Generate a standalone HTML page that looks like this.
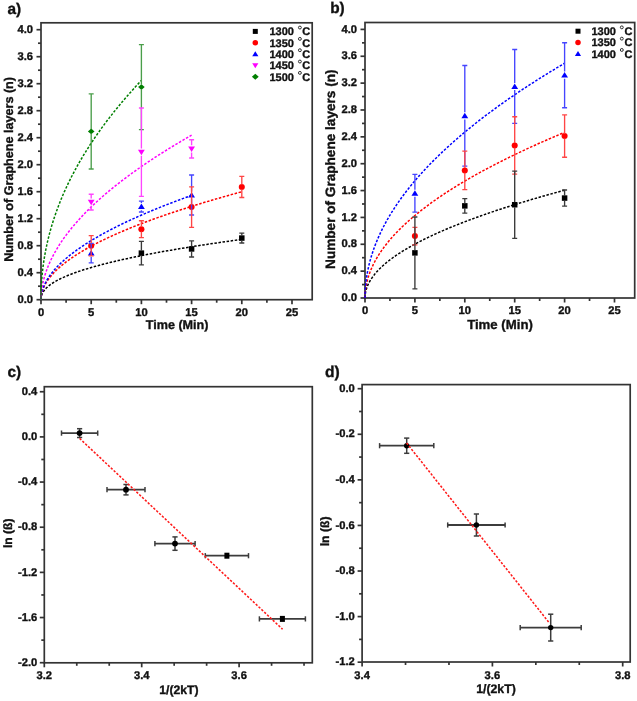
<!DOCTYPE html>
<html><head><meta charset="utf-8"><title>Graphene layers figure</title>
<style>
html,body{margin:0;padding:0;background:#fff;}
body{width:637px;height:701px;position:relative;overflow:hidden;font-family:"Liberation Sans", sans-serif;}
svg{will-change:transform;filter:blur(0.3px);}
text{stroke:#111;stroke-width:0.35px;}
</style></head><body>
<svg width="637" height="701" viewBox="0 0 637 701" style="position:absolute;left:0;top:0" font-family='"Liberation Sans", sans-serif' fill="#111111" text-rendering="geometricPrecision">
<rect width="637" height="701" fill="#ffffff"/>
<line x1="41" y1="299.7" x2="41" y2="304.2" stroke="#333333" stroke-width="1.7" />
<line x1="91.2" y1="299.7" x2="91.2" y2="304.2" stroke="#333333" stroke-width="1.7" />
<line x1="141.4" y1="299.7" x2="141.4" y2="304.2" stroke="#333333" stroke-width="1.7" />
<line x1="191.6" y1="299.7" x2="191.6" y2="304.2" stroke="#333333" stroke-width="1.7" />
<line x1="241.8" y1="299.7" x2="241.8" y2="304.2" stroke="#333333" stroke-width="1.7" />
<line x1="292" y1="299.7" x2="292" y2="304.2" stroke="#333333" stroke-width="1.7" />
<line x1="66.1" y1="299.7" x2="66.1" y2="302.7" stroke="#333333" stroke-width="1.7" />
<line x1="116.3" y1="299.7" x2="116.3" y2="302.7" stroke="#333333" stroke-width="1.7" />
<line x1="166.5" y1="299.7" x2="166.5" y2="302.7" stroke="#333333" stroke-width="1.7" />
<line x1="216.7" y1="299.7" x2="216.7" y2="302.7" stroke="#333333" stroke-width="1.7" />
<line x1="266.9" y1="299.7" x2="266.9" y2="302.7" stroke="#333333" stroke-width="1.7" />
<line x1="36.5" y1="299.7" x2="41" y2="299.7" stroke="#333333" stroke-width="1.7" />
<line x1="36.5" y1="272.7" x2="41" y2="272.7" stroke="#333333" stroke-width="1.7" />
<line x1="36.5" y1="245.7" x2="41" y2="245.7" stroke="#333333" stroke-width="1.7" />
<line x1="36.5" y1="218.7" x2="41" y2="218.7" stroke="#333333" stroke-width="1.7" />
<line x1="36.5" y1="191.7" x2="41" y2="191.7" stroke="#333333" stroke-width="1.7" />
<line x1="36.5" y1="164.7" x2="41" y2="164.7" stroke="#333333" stroke-width="1.7" />
<line x1="36.5" y1="137.7" x2="41" y2="137.7" stroke="#333333" stroke-width="1.7" />
<line x1="36.5" y1="110.7" x2="41" y2="110.7" stroke="#333333" stroke-width="1.7" />
<line x1="36.5" y1="83.7" x2="41" y2="83.7" stroke="#333333" stroke-width="1.7" />
<line x1="36.5" y1="56.7" x2="41" y2="56.7" stroke="#333333" stroke-width="1.7" />
<line x1="36.5" y1="29.7" x2="41" y2="29.7" stroke="#333333" stroke-width="1.7" />
<line x1="38" y1="286.2" x2="41" y2="286.2" stroke="#333333" stroke-width="1.7" />
<line x1="38" y1="259.2" x2="41" y2="259.2" stroke="#333333" stroke-width="1.7" />
<line x1="38" y1="232.2" x2="41" y2="232.2" stroke="#333333" stroke-width="1.7" />
<line x1="38" y1="205.2" x2="41" y2="205.2" stroke="#333333" stroke-width="1.7" />
<line x1="38" y1="178.2" x2="41" y2="178.2" stroke="#333333" stroke-width="1.7" />
<line x1="38" y1="151.2" x2="41" y2="151.2" stroke="#333333" stroke-width="1.7" />
<line x1="38" y1="124.2" x2="41" y2="124.2" stroke="#333333" stroke-width="1.7" />
<line x1="38" y1="97.2" x2="41" y2="97.2" stroke="#333333" stroke-width="1.7" />
<line x1="38" y1="70.2" x2="41" y2="70.2" stroke="#333333" stroke-width="1.7" />
<line x1="38" y1="43.2" x2="41" y2="43.2" stroke="#333333" stroke-width="1.7" />
<rect x="41" y="22.8" width="271.2" height="276.9" fill="none" stroke="#333333" stroke-width="1.7"/>
<text x="41" y="316.2" font-size="11.2" text-anchor="middle" font-weight="bold" >0</text>
<text x="91.2" y="316.2" font-size="11.2" text-anchor="middle" font-weight="bold" >5</text>
<text x="141.4" y="316.2" font-size="11.2" text-anchor="middle" font-weight="bold" >10</text>
<text x="191.6" y="316.2" font-size="11.2" text-anchor="middle" font-weight="bold" >15</text>
<text x="241.8" y="316.2" font-size="11.2" text-anchor="middle" font-weight="bold" >20</text>
<text x="292" y="316.2" font-size="11.2" text-anchor="middle" font-weight="bold" >25</text>
<text x="33" y="302.9" font-size="11.2" text-anchor="end" font-weight="bold" >0.0</text>
<text x="33" y="275.9" font-size="11.2" text-anchor="end" font-weight="bold" >0.4</text>
<text x="33" y="248.9" font-size="11.2" text-anchor="end" font-weight="bold" >0.8</text>
<text x="33" y="221.9" font-size="11.2" text-anchor="end" font-weight="bold" >1.2</text>
<text x="33" y="194.9" font-size="11.2" text-anchor="end" font-weight="bold" >1.6</text>
<text x="33" y="167.9" font-size="11.2" text-anchor="end" font-weight="bold" >2.0</text>
<text x="33" y="140.9" font-size="11.2" text-anchor="end" font-weight="bold" >2.4</text>
<text x="33" y="113.9" font-size="11.2" text-anchor="end" font-weight="bold" >2.8</text>
<text x="33" y="86.9" font-size="11.2" text-anchor="end" font-weight="bold" >3.2</text>
<text x="33" y="59.9" font-size="11.2" text-anchor="end" font-weight="bold" >3.6</text>
<text x="33" y="32.9" font-size="11.2" text-anchor="end" font-weight="bold" >4.0</text>
<text x="7.4" y="13.6" font-size="15.4" font-weight="bold">a)</text>
<text x="177.1" y="329.4" font-size="12.6" font-weight="bold" text-anchor="middle">Time (Min)</text>
<text transform="translate(13.1,169.4) rotate(-90)" font-size="12.6" font-weight="bold" text-anchor="middle">Number of Graphene layers (n)</text>
<polyline points="41,299.7 41.18,297.18 41.55,295.54 42.05,294.12 42.66,292.82 43.38,291.62 44.18,290.47 45.07,289.38 46.04,288.33 47.09,287.32 48.21,286.34 49.4,285.38 50.65,284.45 51.97,283.54 53.35,282.65 54.79,281.77 56.29,280.92 57.85,280.07 59.46,279.24 61.13,278.42 62.85,277.62 64.62,276.82 66.45,276.04 68.33,275.26 70.25,274.5 72.23,273.74 74.25,272.99 76.32,272.25 78.43,271.52 80.6,270.79 82.8,270.08 85.06,269.36 87.35,268.66 89.69,267.96 92.07,267.26 94.5,266.57 96.96,265.89 99.47,265.21 102.02,264.54 104.61,263.87 107.24,263.21 109.91,262.55 112.62,261.89 115.37,261.24 118.15,260.6 120.98,259.95 123.84,259.32 126.74,258.68 129.68,258.05 132.65,257.42 135.66,256.8 138.71,256.18 141.79,255.56 144.91,254.95 148.07,254.34 151.26,253.73 154.48,253.13 157.74,252.53 161.03,251.93 164.36,251.33 167.72,250.74 171.12,250.15 174.55,249.56 178.01,248.98 181.51,248.4 185.04,247.82 188.6,247.24 192.2,246.66 195.82,246.09 199.48,245.52 203.17,244.95 206.89,244.39 210.65,243.82 214.43,243.26 218.25,242.7 222.1,242.15 225.98,241.59 229.89,241.04 233.83,240.49 237.8,239.94 241.8,239.39" fill="none" stroke="#000000" stroke-width="1.5" stroke-dasharray="2.5,1.6"/>
<polyline points="41,299.7 41.18,296.58 41.55,294.24 42.05,292.12 42.66,290.13 43.38,288.23 44.18,286.41 45.07,284.65 46.04,282.93 47.09,281.26 48.21,279.62 49.4,278.01 50.65,276.42 51.97,274.87 53.35,273.33 54.79,271.82 56.29,270.33 57.85,268.85 59.46,267.39 61.13,265.95 62.85,264.52 64.62,263.1 66.45,261.7 68.33,260.31 70.25,258.93 72.23,257.56 74.25,256.2 76.32,254.85 78.43,253.51 80.6,252.18 82.8,250.86 85.06,249.55 87.35,248.25 89.69,246.95 92.07,245.66 94.5,244.38 96.96,243.1 99.47,241.84 102.02,240.57 104.61,239.32 107.24,238.07 109.91,236.83 112.62,235.59 115.37,234.36 118.15,233.13 120.98,231.91 123.84,230.69 126.74,229.48 129.68,228.28 132.65,227.08 135.66,225.88 138.71,224.69 141.79,223.5 144.91,222.32 148.07,221.14 151.26,219.96 154.48,218.79 157.74,217.63 161.03,216.46 164.36,215.31 167.72,214.15 171.12,213 174.55,211.85 178.01,210.71 181.51,209.57 185.04,208.43 188.6,207.29 192.2,206.16 195.82,205.04 199.48,203.91 203.17,202.79 206.89,201.67 210.65,200.56 214.43,199.44 218.25,198.34 222.1,197.23 225.98,196.13 229.89,195.02 233.83,193.93 237.8,192.83 241.8,191.74" fill="none" stroke="#ff0000" stroke-width="1.5" stroke-dasharray="2.5,1.6"/>
<polyline points="41,299.7 41.14,296.92 41.41,294.77 41.79,292.8 42.25,290.95 42.78,289.18 43.39,287.46 44.06,285.8 44.78,284.17 45.57,282.58 46.41,281.03 47.3,279.49 48.24,277.99 49.23,276.5 50.26,275.03 51.34,273.58 52.47,272.15 53.64,270.74 54.85,269.33 56.1,267.94 57.39,266.57 58.72,265.2 60.09,263.85 61.49,262.51 62.94,261.18 64.42,259.85 65.94,258.54 67.49,257.23 69.08,255.94 70.7,254.65 72.35,253.37 74.04,252.09 75.76,250.82 77.52,249.56 79.3,248.31 81.12,247.06 82.97,245.82 84.85,244.59 86.77,243.36 88.71,242.13 90.68,240.92 92.68,239.7 94.71,238.5 96.77,237.29 98.86,236.09 100.98,234.9 103.13,233.71 105.3,232.53 107.51,231.35 109.74,230.17 112,229 114.28,227.83 116.59,226.67 118.93,225.51 121.3,224.35 123.69,223.2 126.11,222.05 128.55,220.91 131.03,219.76 133.52,218.63 136.04,217.49 138.59,216.36 141.16,215.23 143.76,214.11 146.38,212.98 149.03,211.86 151.7,210.75 154.4,209.63 157.12,208.52 159.86,207.42 162.63,206.31 165.42,205.21 168.24,204.11 171.08,203.01 173.94,201.92 176.82,200.83 179.73,199.74 182.67,198.65 185.62,197.57 188.6,196.48 191.6,195.4" fill="none" stroke="#0000ff" stroke-width="1.5" stroke-dasharray="2.5,1.6"/>
<polyline points="41,299.7 41.14,295.47 41.41,292.14 41.79,289.1 42.25,286.22 42.78,283.46 43.39,280.79 44.06,278.19 44.78,275.65 45.57,273.17 46.41,270.73 47.3,268.32 48.24,265.96 49.23,263.63 50.26,261.32 51.34,259.05 52.47,256.8 53.64,254.57 54.85,252.36 56.1,250.17 57.39,248.01 58.72,245.86 60.09,243.72 61.49,241.61 62.94,239.5 64.42,237.42 65.94,235.34 67.49,233.28 69.08,231.23 70.7,229.2 72.35,227.17 74.04,225.16 75.76,223.15 77.52,221.16 79.3,219.18 81.12,217.21 82.97,215.24 84.85,213.29 86.77,211.34 88.71,209.4 90.68,207.47 92.68,205.55 94.71,203.64 96.77,201.73 98.86,199.83 100.98,197.94 103.13,196.05 105.3,194.18 107.51,192.3 109.74,190.44 112,188.58 114.28,186.73 116.59,184.88 118.93,183.04 121.3,181.2 123.69,179.37 126.11,177.55 128.55,175.73 131.03,173.91 133.52,172.11 136.04,170.3 138.59,168.5 141.16,166.71 143.76,164.92 146.38,163.14 149.03,161.36 151.7,159.58 154.4,157.81 157.12,156.04 159.86,154.28 162.63,152.52 165.42,150.77 168.24,149.02 171.08,147.27 173.94,145.53 176.82,143.79 179.73,142.06 182.67,140.33 185.62,138.6 188.6,136.88 191.6,135.16" fill="none" stroke="#ff00ff" stroke-width="1.5" stroke-dasharray="2.5,1.6"/>
<polyline points="41,299.7 41.09,292.44 41.27,287.25 41.53,282.63 41.83,278.35 42.19,274.31 42.59,270.44 43.04,266.71 43.52,263.11 44.04,259.6 44.6,256.17 45.2,252.82 45.82,249.54 46.48,246.32 47.17,243.15 47.9,240.04 48.65,236.97 49.42,233.94 50.23,230.95 51.06,228 51.93,225.08 52.81,222.19 53.73,219.34 54.66,216.51 55.63,213.71 56.61,210.94 57.62,208.19 58.66,205.47 59.72,202.76 60.8,200.08 61.9,197.42 63.03,194.78 64.18,192.16 65.35,189.55 66.54,186.97 67.75,184.4 68.98,181.84 70.24,179.3 71.51,176.78 72.8,174.27 74.12,171.78 75.45,169.3 76.81,166.83 78.18,164.38 79.58,161.94 80.99,159.51 82.42,157.09 83.87,154.69 85.34,152.3 86.83,149.91 88.33,147.54 89.85,145.18 91.4,142.83 92.96,140.49 94.53,138.16 96.13,135.84 97.74,133.52 99.37,131.22 101.02,128.93 102.68,126.64 104.36,124.37 106.06,122.1 107.78,119.84 109.51,117.59 111.26,115.34 113.02,113.11 114.8,110.88 116.6,108.66 118.41,106.44 120.24,104.24 122.09,102.04 123.95,99.85 125.82,97.66 127.72,95.48 129.63,93.31 131.55,91.14 133.49,88.98 135.44,86.83 137.41,84.68 139.4,82.54 141.4,80.41" fill="none" stroke="#007f00" stroke-width="1.5" stroke-dasharray="2.5,1.6"/>
<rect x="138.65" y="250.38" width="5.5" height="5.5" fill="#000000"/>
<rect x="188.85" y="246.19" width="5.5" height="5.5" fill="#000000"/>
<rect x="239.05" y="235.32" width="5.5" height="5.5" fill="#000000"/>
<circle cx="91.2" cy="245.7" r="3.03" fill="#ff0000"/>
<circle cx="141.4" cy="229.16" r="3.03" fill="#ff0000"/>
<circle cx="191.6" cy="207.09" r="3.03" fill="#ff0000"/>
<circle cx="241.8" cy="186.91" r="3.03" fill="#ff0000"/>
<polygon points="91.2,250.03 87.8,255.53 94.6,255.53" fill="#0000ff"/>
<polygon points="141.4,203.45 138,208.95 144.8,208.95" fill="#0000ff"/>
<polygon points="191.6,191.91 188.2,197.41 195,197.41" fill="#0000ff"/>
<polygon points="91.2,205.19 87.8,199.69 94.6,199.69" fill="#ff00ff"/>
<polygon points="141.4,155.31 138,149.81 144.8,149.81" fill="#ff00ff"/>
<polygon points="191.6,151.94 188.2,146.44 195,146.44" fill="#ff00ff"/>
<polygon points="91.2,128.53 94.5,131.42 91.2,134.31 87.9,131.42" fill="#007f00"/>
<polygon points="141.4,84.19 144.7,87.07 141.4,89.96 138.1,87.07" fill="#007f00"/>
<path d="M91.2,169.02 V133.82 M91.2,129.02 V93.82 M88.7,169.02 H93.7 M88.7,93.82 H93.7" stroke="#4a9e4a" stroke-width="1.35" fill="none"/>
<path d="M141.4,129.6 V89.48 M141.4,84.67 V44.55 M138.9,129.6 H143.9 M138.9,44.55 H143.9" stroke="#4a9e4a" stroke-width="1.35" fill="none"/>
<path d="M91.2,209.99 V205.69 M91.2,198.5 V194.2 M88.7,209.99 H93.7 M88.7,194.2 H93.7" stroke="#ff45ff" stroke-width="1.35" fill="none"/>
<path d="M141.4,196.42 V155.81 M141.4,148.61 V108 M138.9,196.42 H143.9 M138.9,108 H143.9" stroke="#ff45ff" stroke-width="1.35" fill="none"/>
<path d="M191.6,157.95 V152.44 M191.6,145.24 V139.72 M189.1,157.95 H194.1 M189.1,139.72 H194.1" stroke="#ff45ff" stroke-width="1.35" fill="none"/>
<path d="M91.2,262.91 V256.73 M91.2,249.53 V243.34 M88.7,262.91 H93.7 M88.7,243.34 H93.7" stroke="#4545ff" stroke-width="1.35" fill="none"/>
<path d="M141.4,211.95 V210.15 M141.4,202.95 V201.15 M138.9,211.95 H143.9 M138.9,201.15 H143.9" stroke="#4545ff" stroke-width="1.35" fill="none"/>
<path d="M191.6,214.99 V198.61 M191.6,191.41 V175.03 M189.1,214.99 H194.1 M189.1,175.03 H194.1" stroke="#4545ff" stroke-width="1.35" fill="none"/>
<path d="M91.2,255.82 V248.1 M91.2,243.3 V235.57 M88.7,255.82 H93.7 M88.7,235.57 H93.7" stroke="#ff4545" stroke-width="1.35" fill="none"/>
<path d="M141.4,237.6 V231.56 M141.4,226.76 V220.72 M138.9,237.6 H143.9 M138.9,220.72 H143.9" stroke="#ff4545" stroke-width="1.35" fill="none"/>
<path d="M191.6,227.34 V209.49 M191.6,204.69 V186.84 M189.1,227.34 H194.1 M189.1,186.84 H194.1" stroke="#ff4545" stroke-width="1.35" fill="none"/>
<path d="M241.8,197.5 V189.31 M241.8,184.51 V176.31 M239.3,197.5 H244.3 M239.3,176.31 H244.3" stroke="#ff4545" stroke-width="1.35" fill="none"/>
<path d="M141.4,264.87 V255.53 M141.4,250.72 V241.38 M138.9,264.87 H143.9 M138.9,241.38 H143.9" stroke="#3a3a3a" stroke-width="1.35" fill="none"/>
<path d="M191.6,257.04 V251.34 M191.6,246.54 V240.84 M189.1,257.04 H194.1 M189.1,240.84 H194.1" stroke="#3a3a3a" stroke-width="1.35" fill="none"/>
<path d="M241.8,243 V240.47 M241.8,235.67 V233.14 M239.3,243 H244.3 M239.3,233.14 H244.3" stroke="#3a3a3a" stroke-width="1.35" fill="none"/>
<rect x="252.8" y="28.9" width="5" height="5" fill="#000000"/>
<text x="269.5" y="35.36" font-size="11" font-weight="bold">1300</text>
<circle cx="299.9" cy="27.56" r="1.45" fill="none" stroke="#222" stroke-width="0.95"/>
<text x="302.3" y="35.36" font-size="11" font-weight="bold">C</text>
<circle cx="255.3" cy="42.73" r="2.75" fill="#ff0000"/>
<text x="269.5" y="46.69" font-size="11" font-weight="bold">1350</text>
<circle cx="299.9" cy="38.89" r="1.45" fill="none" stroke="#222" stroke-width="0.95"/>
<text x="302.3" y="46.69" font-size="11" font-weight="bold">C</text>
<polygon points="255.3,51.24 252.21,56.24 258.39,56.24" fill="#0000ff"/>
<text x="269.5" y="58.02" font-size="11" font-weight="bold">1400</text>
<circle cx="299.9" cy="50.22" r="1.45" fill="none" stroke="#222" stroke-width="0.95"/>
<text x="302.3" y="58.02" font-size="11" font-weight="bold">C</text>
<polygon points="255.3,68.21 252.21,63.21 258.39,63.21" fill="#ff00ff"/>
<text x="269.5" y="69.35" font-size="11" font-weight="bold">1450</text>
<circle cx="299.9" cy="61.55" r="1.45" fill="none" stroke="#222" stroke-width="0.95"/>
<text x="302.3" y="69.35" font-size="11" font-weight="bold">C</text>
<polygon points="255.3,73.73 258.72,76.72 255.3,79.71 251.88,76.72" fill="#007f00"/>
<text x="269.5" y="80.68" font-size="11" font-weight="bold">1500</text>
<circle cx="299.9" cy="72.88" r="1.45" fill="none" stroke="#222" stroke-width="0.95"/>
<text x="302.3" y="80.68" font-size="11" font-weight="bold">C</text>
<line x1="365" y1="298" x2="365" y2="302.5" stroke="#333333" stroke-width="1.7" />
<line x1="414.9" y1="298" x2="414.9" y2="302.5" stroke="#333333" stroke-width="1.7" />
<line x1="464.8" y1="298" x2="464.8" y2="302.5" stroke="#333333" stroke-width="1.7" />
<line x1="514.7" y1="298" x2="514.7" y2="302.5" stroke="#333333" stroke-width="1.7" />
<line x1="564.6" y1="298" x2="564.6" y2="302.5" stroke="#333333" stroke-width="1.7" />
<line x1="614.5" y1="298" x2="614.5" y2="302.5" stroke="#333333" stroke-width="1.7" />
<line x1="389.95" y1="298" x2="389.95" y2="301" stroke="#333333" stroke-width="1.7" />
<line x1="439.85" y1="298" x2="439.85" y2="301" stroke="#333333" stroke-width="1.7" />
<line x1="489.75" y1="298" x2="489.75" y2="301" stroke="#333333" stroke-width="1.7" />
<line x1="539.65" y1="298" x2="539.65" y2="301" stroke="#333333" stroke-width="1.7" />
<line x1="589.55" y1="298" x2="589.55" y2="301" stroke="#333333" stroke-width="1.7" />
<line x1="360.5" y1="298" x2="365" y2="298" stroke="#333333" stroke-width="1.7" />
<line x1="360.5" y1="271.14" x2="365" y2="271.14" stroke="#333333" stroke-width="1.7" />
<line x1="360.5" y1="244.28" x2="365" y2="244.28" stroke="#333333" stroke-width="1.7" />
<line x1="360.5" y1="217.42" x2="365" y2="217.42" stroke="#333333" stroke-width="1.7" />
<line x1="360.5" y1="190.56" x2="365" y2="190.56" stroke="#333333" stroke-width="1.7" />
<line x1="360.5" y1="163.7" x2="365" y2="163.7" stroke="#333333" stroke-width="1.7" />
<line x1="360.5" y1="136.84" x2="365" y2="136.84" stroke="#333333" stroke-width="1.7" />
<line x1="360.5" y1="109.98" x2="365" y2="109.98" stroke="#333333" stroke-width="1.7" />
<line x1="360.5" y1="83.12" x2="365" y2="83.12" stroke="#333333" stroke-width="1.7" />
<line x1="360.5" y1="56.26" x2="365" y2="56.26" stroke="#333333" stroke-width="1.7" />
<line x1="360.5" y1="29.4" x2="365" y2="29.4" stroke="#333333" stroke-width="1.7" />
<line x1="362" y1="284.57" x2="365" y2="284.57" stroke="#333333" stroke-width="1.7" />
<line x1="362" y1="257.71" x2="365" y2="257.71" stroke="#333333" stroke-width="1.7" />
<line x1="362" y1="230.85" x2="365" y2="230.85" stroke="#333333" stroke-width="1.7" />
<line x1="362" y1="203.99" x2="365" y2="203.99" stroke="#333333" stroke-width="1.7" />
<line x1="362" y1="177.13" x2="365" y2="177.13" stroke="#333333" stroke-width="1.7" />
<line x1="362" y1="150.27" x2="365" y2="150.27" stroke="#333333" stroke-width="1.7" />
<line x1="362" y1="123.41" x2="365" y2="123.41" stroke="#333333" stroke-width="1.7" />
<line x1="362" y1="96.55" x2="365" y2="96.55" stroke="#333333" stroke-width="1.7" />
<line x1="362" y1="69.69" x2="365" y2="69.69" stroke="#333333" stroke-width="1.7" />
<line x1="362" y1="42.83" x2="365" y2="42.83" stroke="#333333" stroke-width="1.7" />
<rect x="365" y="22.5" width="269.7" height="275.5" fill="none" stroke="#333333" stroke-width="1.7"/>
<text x="365" y="313.8" font-size="11.2" text-anchor="middle" font-weight="bold" >0</text>
<text x="414.9" y="313.8" font-size="11.2" text-anchor="middle" font-weight="bold" >5</text>
<text x="464.8" y="313.8" font-size="11.2" text-anchor="middle" font-weight="bold" >10</text>
<text x="514.7" y="313.8" font-size="11.2" text-anchor="middle" font-weight="bold" >15</text>
<text x="564.6" y="313.8" font-size="11.2" text-anchor="middle" font-weight="bold" >20</text>
<text x="614.5" y="313.8" font-size="11.2" text-anchor="middle" font-weight="bold" >25</text>
<text x="357" y="301.2" font-size="11.2" text-anchor="end" font-weight="bold" >0.0</text>
<text x="357" y="274.34" font-size="11.2" text-anchor="end" font-weight="bold" >0.4</text>
<text x="357" y="247.48" font-size="11.2" text-anchor="end" font-weight="bold" >0.8</text>
<text x="357" y="220.62" font-size="11.2" text-anchor="end" font-weight="bold" >1.2</text>
<text x="357" y="193.76" font-size="11.2" text-anchor="end" font-weight="bold" >1.6</text>
<text x="357" y="166.9" font-size="11.2" text-anchor="end" font-weight="bold" >2.0</text>
<text x="357" y="140.04" font-size="11.2" text-anchor="end" font-weight="bold" >2.4</text>
<text x="357" y="113.18" font-size="11.2" text-anchor="end" font-weight="bold" >2.8</text>
<text x="357" y="86.32" font-size="11.2" text-anchor="end" font-weight="bold" >3.2</text>
<text x="357" y="59.46" font-size="11.2" text-anchor="end" font-weight="bold" >3.6</text>
<text x="357" y="32.6" font-size="11.2" text-anchor="end" font-weight="bold" >4.0</text>
<text x="330.2" y="13.1" font-size="15.4" font-weight="bold">b)</text>
<text x="500" y="328.7" font-size="13.2" font-weight="bold" text-anchor="middle">Time (Min)</text>
<text transform="translate(335.2,169.2) rotate(-90)" font-size="13.6" font-weight="bold" text-anchor="middle">Number of Graphene layers (n)</text>
<polyline points="365,298 365.18,294.76 365.55,292.36 366.04,290.2 366.65,288.19 367.36,286.27 368.16,284.43 369.05,282.64 370.01,280.91 371.05,279.23 372.17,277.57 373.35,275.96 374.59,274.37 375.9,272.8 377.27,271.26 378.71,269.75 380.2,268.25 381.75,266.77 383.35,265.31 385.01,263.87 386.72,262.44 388.48,261.02 390.3,259.62 392.16,258.23 394.08,256.85 396.04,255.49 398.05,254.13 400.11,252.79 402.21,251.45 404.36,250.13 406.55,248.81 408.79,247.5 411.07,246.2 413.4,244.91 415.77,243.63 418.18,242.35 420.63,241.09 423.12,239.82 425.66,238.57 428.23,237.32 430.84,236.08 433.5,234.84 436.19,233.62 438.92,232.39 441.69,231.17 444.5,229.96 447.34,228.75 450.23,227.55 453.15,226.36 456.1,225.16 459.1,223.98 462.12,222.8 465.19,221.62 468.29,220.45 471.43,219.28 474.6,218.11 477.8,216.95 481.04,215.8 484.32,214.65 487.63,213.5 490.97,212.35 494.34,211.21 497.75,210.08 501.2,208.95 504.67,207.82 508.18,206.69 511.72,205.57 515.29,204.45 518.9,203.33 522.53,202.22 526.2,201.11 529.9,200.01 533.64,198.91 537.4,197.81 541.19,196.71 545.02,195.62 548.87,194.53 552.76,193.44 556.68,192.35 560.62,191.27 564.6,190.19" fill="none" stroke="#000000" stroke-width="1.5" stroke-dasharray="2.5,1.6"/>
<polyline points="365,298 365.18,293.12 365.55,289.48 366.04,286.2 366.65,283.12 367.36,280.2 368.16,277.38 369.05,274.66 370.01,272.02 371.05,269.43 372.17,266.91 373.35,264.43 374.59,261.99 375.9,259.6 377.27,257.24 378.71,254.91 380.2,252.62 381.75,250.35 383.35,248.11 385.01,245.89 386.72,243.69 388.48,241.52 390.3,239.37 392.16,237.23 394.08,235.12 396.04,233.02 398.05,230.93 400.11,228.87 402.21,226.81 404.36,224.77 406.55,222.75 408.79,220.74 411.07,218.74 413.4,216.75 415.77,214.78 418.18,212.81 420.63,210.86 423.12,208.92 425.66,206.99 428.23,205.07 430.84,203.15 433.5,201.25 436.19,199.36 438.92,197.47 441.69,195.6 444.5,193.73 447.34,191.87 450.23,190.02 453.15,188.17 456.1,186.33 459.1,184.5 462.12,182.68 465.19,180.87 468.29,179.06 471.43,177.25 474.6,175.46 477.8,173.67 481.04,171.89 484.32,170.11 487.63,168.34 490.97,166.57 494.34,164.81 497.75,163.06 501.2,161.31 504.67,159.57 508.18,157.83 511.72,156.1 515.29,154.37 518.9,152.65 522.53,150.93 526.2,149.22 529.9,147.51 533.64,145.81 537.4,144.11 541.19,142.42 545.02,140.73 548.87,139.05 552.76,137.37 556.68,135.69 560.62,134.02 564.6,132.35" fill="none" stroke="#ff0000" stroke-width="1.5" stroke-dasharray="2.5,1.6"/>
<polyline points="365,298 365.18,291 365.55,285.79 366.04,281.1 366.65,276.72 367.36,272.56 368.16,268.55 369.05,264.68 370.01,260.92 371.05,257.25 372.17,253.66 373.35,250.14 374.59,246.68 375.9,243.28 377.27,239.93 378.71,236.63 380.2,233.37 381.75,230.15 383.35,226.97 385.01,223.83 386.72,220.72 388.48,217.63 390.3,214.58 392.16,211.56 394.08,208.56 396.04,205.58 398.05,202.63 400.11,199.7 402.21,196.8 404.36,193.91 406.55,191.04 408.79,188.19 411.07,185.36 413.4,182.55 415.77,179.76 418.18,176.98 420.63,174.21 423.12,171.46 425.66,168.73 428.23,166.01 430.84,163.31 433.5,160.61 436.19,157.94 438.92,155.27 441.69,152.61 444.5,149.97 447.34,147.34 450.23,144.72 453.15,142.11 456.1,139.52 459.1,136.93 462.12,134.35 465.19,131.79 468.29,129.23 471.43,126.68 474.6,124.14 477.8,121.62 481.04,119.1 484.32,116.59 487.63,114.08 490.97,111.59 494.34,109.1 497.75,106.62 501.2,104.15 504.67,101.69 508.18,99.24 511.72,96.79 515.29,94.35 518.9,91.92 522.53,89.49 526.2,87.08 529.9,84.66 533.64,82.26 537.4,79.86 541.19,77.47 545.02,75.08 548.87,72.71 552.76,70.33 556.68,67.97 560.62,65.61 564.6,63.25" fill="none" stroke="#0000ff" stroke-width="1.5" stroke-dasharray="2.5,1.6"/>
<rect x="412.15" y="250.13" width="5.5" height="5.5" fill="#000000"/>
<rect x="462.05" y="203.12" width="5.5" height="5.5" fill="#000000"/>
<rect x="511.95" y="201.98" width="5.5" height="5.5" fill="#000000"/>
<rect x="561.85" y="195.33" width="5.5" height="5.5" fill="#000000"/>
<circle cx="414.9" cy="236.09" r="3.03" fill="#ff0000"/>
<circle cx="464.8" cy="170.41" r="3.03" fill="#ff0000"/>
<circle cx="514.7" cy="145.44" r="3.03" fill="#ff0000"/>
<circle cx="564.6" cy="136.03" r="3.03" fill="#ff0000"/>
<polygon points="414.9,190.15 411.5,195.65 418.3,195.65" fill="#0000ff"/>
<polygon points="464.8,112.72 461.4,118.22 468.2,118.22" fill="#0000ff"/>
<polygon points="514.7,83.38 511.3,88.88 518.1,88.88" fill="#0000ff"/>
<polygon points="564.6,72.1 561.2,77.6 568,77.6" fill="#0000ff"/>
<path d="M414.9,212.05 V196.85 M414.9,189.65 V174.44 M412.4,212.05 H417.4 M412.4,174.44 H417.4" stroke="#4545ff" stroke-width="1.35" fill="none"/>
<path d="M464.8,166.18 V119.42 M464.8,112.22 V65.46 M462.3,166.18 H467.3 M462.3,65.46 H467.3" stroke="#4545ff" stroke-width="1.35" fill="none"/>
<path d="M514.7,123.41 V90.08 M514.7,82.88 V49.54 M512.2,123.41 H517.2 M512.2,49.54 H517.2" stroke="#4545ff" stroke-width="1.35" fill="none"/>
<path d="M564.6,107.7 V78.8 M564.6,71.6 V42.7 M562.1,107.7 H567.1 M562.1,42.7 H567.1" stroke="#4545ff" stroke-width="1.35" fill="none"/>
<path d="M414.9,244.82 V238.49 M414.9,233.69 V227.36 M412.4,244.82 H417.4 M412.4,227.36 H417.4" stroke="#ff4545" stroke-width="1.35" fill="none"/>
<path d="M464.8,189.69 V172.81 M464.8,168.01 V151.14 M462.3,189.69 H467.3 M462.3,151.14 H467.3" stroke="#ff4545" stroke-width="1.35" fill="none"/>
<path d="M514.7,174.11 V147.84 M514.7,143.04 V116.76 M512.2,174.11 H517.2 M512.2,116.76 H517.2" stroke="#ff4545" stroke-width="1.35" fill="none"/>
<path d="M564.6,157.25 V138.43 M564.6,133.63 V114.81 M562.1,157.25 H567.1 M562.1,114.81 H567.1" stroke="#ff4545" stroke-width="1.35" fill="none"/>
<path d="M414.9,288.8 V255.28 M414.9,250.48 V216.95 M412.4,288.8 H417.4 M412.4,216.95 H417.4" stroke="#3a3a3a" stroke-width="1.35" fill="none"/>
<path d="M464.8,213.06 V208.27 M464.8,203.47 V198.69 M462.3,213.06 H467.3 M462.3,198.69 H467.3" stroke="#3a3a3a" stroke-width="1.35" fill="none"/>
<path d="M514.7,238.3 V207.13 M514.7,202.33 V171.15 M512.2,238.3 H517.2 M512.2,171.15 H517.2" stroke="#3a3a3a" stroke-width="1.35" fill="none"/>
<path d="M564.6,206.14 V200.48 M564.6,195.68 V190.02 M562.1,206.14 H567.1 M562.1,190.02 H567.1" stroke="#3a3a3a" stroke-width="1.35" fill="none"/>
<rect x="575.5" y="28.7" width="5" height="5" fill="#000000"/>
<text x="591.4" y="35.16" font-size="11" font-weight="bold">1300</text>
<circle cx="621.8" cy="27.36" r="1.45" fill="none" stroke="#222" stroke-width="0.95"/>
<text x="624.4" y="35.16" font-size="11" font-weight="bold">C</text>
<circle cx="578" cy="42.5" r="2.75" fill="#ff0000"/>
<text x="591.4" y="46.46" font-size="11" font-weight="bold">1350</text>
<circle cx="621.8" cy="38.66" r="1.45" fill="none" stroke="#222" stroke-width="0.95"/>
<text x="624.4" y="46.46" font-size="11" font-weight="bold">C</text>
<polygon points="578,50.98 574.91,55.98 581.09,55.98" fill="#0000ff"/>
<text x="591.4" y="57.76" font-size="11" font-weight="bold">1400</text>
<circle cx="621.8" cy="49.96" r="1.45" fill="none" stroke="#222" stroke-width="0.95"/>
<text x="624.4" y="57.76" font-size="11" font-weight="bold">C</text>
<line x1="44.3" y1="662.8" x2="44.3" y2="667.3" stroke="#333333" stroke-width="1.7" />
<line x1="141.7" y1="662.8" x2="141.7" y2="667.3" stroke="#333333" stroke-width="1.7" />
<line x1="239.1" y1="662.8" x2="239.1" y2="667.3" stroke="#333333" stroke-width="1.7" />
<line x1="76.77" y1="662.8" x2="76.77" y2="665.8" stroke="#333333" stroke-width="1.7" />
<line x1="109.23" y1="662.8" x2="109.23" y2="665.8" stroke="#333333" stroke-width="1.7" />
<line x1="174.17" y1="662.8" x2="174.17" y2="665.8" stroke="#333333" stroke-width="1.7" />
<line x1="206.63" y1="662.8" x2="206.63" y2="665.8" stroke="#333333" stroke-width="1.7" />
<line x1="271.57" y1="662.8" x2="271.57" y2="665.8" stroke="#333333" stroke-width="1.7" />
<line x1="304.03" y1="662.8" x2="304.03" y2="665.8" stroke="#333333" stroke-width="1.7" />
<line x1="39.8" y1="391.74" x2="44.3" y2="391.74" stroke="#333333" stroke-width="1.7" />
<line x1="39.8" y1="436.9" x2="44.3" y2="436.9" stroke="#333333" stroke-width="1.7" />
<line x1="39.8" y1="482.06" x2="44.3" y2="482.06" stroke="#333333" stroke-width="1.7" />
<line x1="39.8" y1="527.22" x2="44.3" y2="527.22" stroke="#333333" stroke-width="1.7" />
<line x1="39.8" y1="572.38" x2="44.3" y2="572.38" stroke="#333333" stroke-width="1.7" />
<line x1="39.8" y1="617.54" x2="44.3" y2="617.54" stroke="#333333" stroke-width="1.7" />
<line x1="39.8" y1="662.7" x2="44.3" y2="662.7" stroke="#333333" stroke-width="1.7" />
<line x1="41.3" y1="414.32" x2="44.3" y2="414.32" stroke="#333333" stroke-width="1.7" />
<line x1="41.3" y1="459.48" x2="44.3" y2="459.48" stroke="#333333" stroke-width="1.7" />
<line x1="41.3" y1="504.64" x2="44.3" y2="504.64" stroke="#333333" stroke-width="1.7" />
<line x1="41.3" y1="549.8" x2="44.3" y2="549.8" stroke="#333333" stroke-width="1.7" />
<line x1="41.3" y1="594.96" x2="44.3" y2="594.96" stroke="#333333" stroke-width="1.7" />
<line x1="41.3" y1="640.12" x2="44.3" y2="640.12" stroke="#333333" stroke-width="1.7" />
<rect x="44.3" y="386.7" width="268" height="276.1" fill="none" stroke="#333333" stroke-width="1.7"/>
<text x="44.3" y="679.3" font-size="11.2" text-anchor="middle" font-weight="bold" >3.2</text>
<text x="141.7" y="679.3" font-size="11.2" text-anchor="middle" font-weight="bold" >3.4</text>
<text x="239.1" y="679.3" font-size="11.2" text-anchor="middle" font-weight="bold" >3.6</text>
<text x="37.3" y="394.94" font-size="11.2" text-anchor="end" font-weight="bold" >0.4</text>
<text x="37.3" y="440.1" font-size="11.2" text-anchor="end" font-weight="bold" >0.0</text>
<text x="37.3" y="485.26" font-size="11.2" text-anchor="end" font-weight="bold" >-0.4</text>
<text x="37.3" y="530.42" font-size="11.2" text-anchor="end" font-weight="bold" >-0.8</text>
<text x="37.3" y="575.58" font-size="11.2" text-anchor="end" font-weight="bold" >-1.2</text>
<text x="37.3" y="620.74" font-size="11.2" text-anchor="end" font-weight="bold" >-1.6</text>
<text x="37.3" y="665.9" font-size="11.2" text-anchor="end" font-weight="bold" >-2.0</text>
<text x="7.4" y="377.1" font-size="15.4" font-weight="bold">c)</text>
<text x="179" y="693.6" font-size="12.2" font-weight="bold" text-anchor="middle">1/(2kT)</text>
<text transform="translate(12.4,533.3) rotate(-90)" font-size="12.1" font-weight="bold" text-anchor="middle">ln (ß)</text>
<line x1="61.5" y1="433.1" x2="97.7" y2="433.1" stroke="#3c3c3c" stroke-width="1.8" />
<line x1="61.5" y1="430.5" x2="61.5" y2="435.7" stroke="#3c3c3c" stroke-width="1.5" />
<line x1="97.7" y1="430.5" x2="97.7" y2="435.7" stroke="#3c3c3c" stroke-width="1.5" />
<line x1="79.6" y1="428.7" x2="79.6" y2="437.5" stroke="#3c3c3c" stroke-width="1.5" />
<line x1="77" y1="428.7" x2="82.2" y2="428.7" stroke="#3c3c3c" stroke-width="1.5" />
<line x1="77" y1="437.5" x2="82.2" y2="437.5" stroke="#3c3c3c" stroke-width="1.5" />
<circle cx="79.6" cy="433.1" r="2.9" fill="#000"/>
<line x1="107" y1="489.7" x2="145" y2="489.7" stroke="#3c3c3c" stroke-width="1.8" />
<line x1="107" y1="487.1" x2="107" y2="492.3" stroke="#3c3c3c" stroke-width="1.5" />
<line x1="145" y1="487.1" x2="145" y2="492.3" stroke="#3c3c3c" stroke-width="1.5" />
<line x1="126" y1="484.5" x2="126" y2="494.9" stroke="#3c3c3c" stroke-width="1.5" />
<line x1="123.4" y1="484.5" x2="128.6" y2="484.5" stroke="#3c3c3c" stroke-width="1.5" />
<line x1="123.4" y1="494.9" x2="128.6" y2="494.9" stroke="#3c3c3c" stroke-width="1.5" />
<circle cx="126" cy="489.7" r="2.9" fill="#000"/>
<line x1="154.9" y1="543.6" x2="195.1" y2="543.6" stroke="#3c3c3c" stroke-width="1.8" />
<line x1="154.9" y1="541" x2="154.9" y2="546.2" stroke="#3c3c3c" stroke-width="1.5" />
<line x1="195.1" y1="541" x2="195.1" y2="546.2" stroke="#3c3c3c" stroke-width="1.5" />
<line x1="175" y1="536.9" x2="175" y2="550.3" stroke="#3c3c3c" stroke-width="1.5" />
<line x1="172.4" y1="536.9" x2="177.6" y2="536.9" stroke="#3c3c3c" stroke-width="1.5" />
<line x1="172.4" y1="550.3" x2="177.6" y2="550.3" stroke="#3c3c3c" stroke-width="1.5" />
<circle cx="175" cy="543.6" r="2.9" fill="#000"/>
<line x1="205.3" y1="555.7" x2="248.5" y2="555.7" stroke="#3c3c3c" stroke-width="1.8" />
<line x1="205.3" y1="553.1" x2="205.3" y2="558.3" stroke="#3c3c3c" stroke-width="1.5" />
<line x1="248.5" y1="553.1" x2="248.5" y2="558.3" stroke="#3c3c3c" stroke-width="1.5" />
<rect x="224.4" y="552.7" width="5" height="6" fill="#000"/>
<line x1="259.4" y1="618.9" x2="305.4" y2="618.9" stroke="#3c3c3c" stroke-width="1.8" />
<line x1="259.4" y1="616.3" x2="259.4" y2="621.5" stroke="#3c3c3c" stroke-width="1.5" />
<line x1="305.4" y1="616.3" x2="305.4" y2="621.5" stroke="#3c3c3c" stroke-width="1.5" />
<rect x="279.9" y="615.9" width="5" height="6" fill="#000"/>
<line x1="79.6" y1="438.4" x2="282.6" y2="629.3" stroke="#ff1a1a" stroke-width="1.55" stroke-dasharray="2.3,1.6"/>
<line x1="362.1" y1="662" x2="362.1" y2="666.5" stroke="#333333" stroke-width="1.7" />
<line x1="492.4" y1="662" x2="492.4" y2="666.5" stroke="#333333" stroke-width="1.7" />
<line x1="622.7" y1="662" x2="622.7" y2="666.5" stroke="#333333" stroke-width="1.7" />
<line x1="405.53" y1="662" x2="405.53" y2="665" stroke="#333333" stroke-width="1.7" />
<line x1="448.97" y1="662" x2="448.97" y2="665" stroke="#333333" stroke-width="1.7" />
<line x1="535.83" y1="662" x2="535.83" y2="665" stroke="#333333" stroke-width="1.7" />
<line x1="579.27" y1="662" x2="579.27" y2="665" stroke="#333333" stroke-width="1.7" />
<line x1="357.6" y1="388.7" x2="362.1" y2="388.7" stroke="#333333" stroke-width="1.7" />
<line x1="357.6" y1="434.28" x2="362.1" y2="434.28" stroke="#333333" stroke-width="1.7" />
<line x1="357.6" y1="479.86" x2="362.1" y2="479.86" stroke="#333333" stroke-width="1.7" />
<line x1="357.6" y1="525.44" x2="362.1" y2="525.44" stroke="#333333" stroke-width="1.7" />
<line x1="357.6" y1="571.02" x2="362.1" y2="571.02" stroke="#333333" stroke-width="1.7" />
<line x1="357.6" y1="616.6" x2="362.1" y2="616.6" stroke="#333333" stroke-width="1.7" />
<line x1="357.6" y1="662.18" x2="362.1" y2="662.18" stroke="#333333" stroke-width="1.7" />
<line x1="359.1" y1="411.49" x2="362.1" y2="411.49" stroke="#333333" stroke-width="1.7" />
<line x1="359.1" y1="457.07" x2="362.1" y2="457.07" stroke="#333333" stroke-width="1.7" />
<line x1="359.1" y1="502.65" x2="362.1" y2="502.65" stroke="#333333" stroke-width="1.7" />
<line x1="359.1" y1="548.23" x2="362.1" y2="548.23" stroke="#333333" stroke-width="1.7" />
<line x1="359.1" y1="593.81" x2="362.1" y2="593.81" stroke="#333333" stroke-width="1.7" />
<line x1="359.1" y1="639.39" x2="362.1" y2="639.39" stroke="#333333" stroke-width="1.7" />
<rect x="362.1" y="384.6" width="268.1" height="277.4" fill="none" stroke="#333333" stroke-width="1.7"/>
<text x="362.1" y="678.5" font-size="11.2" text-anchor="middle" font-weight="bold" >3.4</text>
<text x="492.4" y="678.5" font-size="11.2" text-anchor="middle" font-weight="bold" >3.6</text>
<text x="622.7" y="678.5" font-size="11.2" text-anchor="middle" font-weight="bold" >3.8</text>
<text x="354.8" y="391.9" font-size="11.2" text-anchor="end" font-weight="bold" >0.0</text>
<text x="354.8" y="437.48" font-size="11.2" text-anchor="end" font-weight="bold" >-0.2</text>
<text x="354.8" y="483.06" font-size="11.2" text-anchor="end" font-weight="bold" >-0.4</text>
<text x="354.8" y="528.64" font-size="11.2" text-anchor="end" font-weight="bold" >-0.6</text>
<text x="354.8" y="574.22" font-size="11.2" text-anchor="end" font-weight="bold" >-0.8</text>
<text x="354.8" y="619.8" font-size="11.2" text-anchor="end" font-weight="bold" >-1.0</text>
<text x="354.8" y="665.38" font-size="11.2" text-anchor="end" font-weight="bold" >-1.2</text>
<text x="325.0" y="377.1" font-size="15.6" font-weight="bold">d)</text>
<text x="496" y="693.2" font-size="12.3" font-weight="bold" text-anchor="middle">1/(2kT)</text>
<text transform="translate(328.9,531.4) rotate(-90)" font-size="12.2" font-weight="bold" text-anchor="middle">ln (ß)</text>
<line x1="379.6" y1="445.7" x2="433.8" y2="445.7" stroke="#3c3c3c" stroke-width="1.8" />
<line x1="379.6" y1="443.1" x2="379.6" y2="448.3" stroke="#3c3c3c" stroke-width="1.5" />
<line x1="433.8" y1="443.1" x2="433.8" y2="448.3" stroke="#3c3c3c" stroke-width="1.5" />
<line x1="406.7" y1="438.1" x2="406.7" y2="453.3" stroke="#3c3c3c" stroke-width="1.5" />
<line x1="404.1" y1="438.1" x2="409.3" y2="438.1" stroke="#3c3c3c" stroke-width="1.5" />
<line x1="404.1" y1="453.3" x2="409.3" y2="453.3" stroke="#3c3c3c" stroke-width="1.5" />
<circle cx="406.7" cy="445.7" r="2.7" fill="#000"/>
<line x1="447.7" y1="525" x2="505.1" y2="525" stroke="#3c3c3c" stroke-width="1.8" />
<line x1="447.7" y1="522.4" x2="447.7" y2="527.6" stroke="#3c3c3c" stroke-width="1.5" />
<line x1="505.1" y1="522.4" x2="505.1" y2="527.6" stroke="#3c3c3c" stroke-width="1.5" />
<line x1="476.4" y1="514" x2="476.4" y2="536" stroke="#3c3c3c" stroke-width="1.5" />
<line x1="473.8" y1="514" x2="479" y2="514" stroke="#3c3c3c" stroke-width="1.5" />
<line x1="473.8" y1="536" x2="479" y2="536" stroke="#3c3c3c" stroke-width="1.5" />
<circle cx="476.4" cy="525" r="2.7" fill="#000"/>
<line x1="520.2" y1="627.6" x2="581.2" y2="627.6" stroke="#3c3c3c" stroke-width="1.8" />
<line x1="520.2" y1="625" x2="520.2" y2="630.2" stroke="#3c3c3c" stroke-width="1.5" />
<line x1="581.2" y1="625" x2="581.2" y2="630.2" stroke="#3c3c3c" stroke-width="1.5" />
<line x1="550.7" y1="614.2" x2="550.7" y2="641" stroke="#3c3c3c" stroke-width="1.5" />
<line x1="548.1" y1="614.2" x2="553.3" y2="614.2" stroke="#3c3c3c" stroke-width="1.5" />
<line x1="548.1" y1="641" x2="553.3" y2="641" stroke="#3c3c3c" stroke-width="1.5" />
<circle cx="550.7" cy="627.6" r="2.7" fill="#000"/>
<line x1="406.6" y1="443.0" x2="549.3" y2="622.9" stroke="#ff1a1a" stroke-width="1.55" stroke-dasharray="2.3,1.6"/>
</svg>
</body></html>
